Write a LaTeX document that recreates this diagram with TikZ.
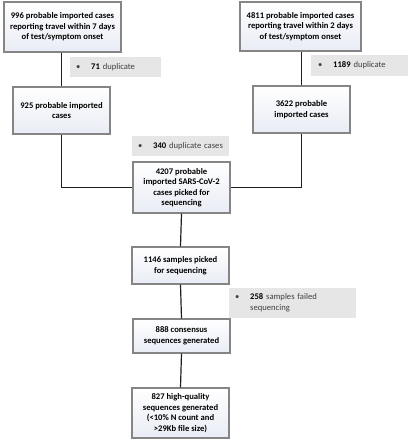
\documentclass[tikz,border=0pt]{standalone}
\usepackage{fontspec}
\setmainfont{Carlito}
\usetikzlibrary{positioning}
\definecolor{boxborder}{HTML}{858585}
\definecolor{boxbot}{HTML}{E9ECF5}
\definecolor{notefill}{HTML}{E6E6E6}
\definecolor{notetext}{HTML}{404040}
\definecolor{linec}{HTML}{1E1E1E}
\tikzset{
  stepbox/.style={draw=boxborder, line width=1.2pt, top color=white, bottom color=boxbot,
    align=center, inner sep=1pt, font=\fontsize{8.6}{10.5}\selectfont\bfseries},
  notebox/.style={fill=notefill, draw=none, inner sep=0pt, anchor=west,
    font=\fontsize{8.6}{10.5}\selectfont, text=notetext},
  conn/.style={draw=linec, line width=1.2pt},
}
\newcommand{\nb}{\makebox[15pt][l]{\textbullet}}
\begin{document}
\begin{tikzpicture}[x=1pt,y=-1pt]
\useasboundingbox (0,0) rectangle (409,440);
% main boxes
\node[stepbox, minimum width=117pt, minimum height=50pt] (b996) at (62.5,27)
  {996 probable imported cases\\reporting travel within 7 days\\of test/symptom onset};
\node[stepbox, minimum width=121pt, minimum height=49pt] (b4811) at (300.5,26.5)
  {4811 probable imported cases\\reporting travel within 2 days\\of test/symptom onset};
\node[stepbox, minimum width=97pt, minimum height=47pt] (b925) at (61.5,110.5)
  {925 probable imported\\cases};
\node[stepbox, minimum width=97pt, minimum height=47pt] (b3622) at (301.5,109.5)
  {3622 probable\\imported cases};
\node[stepbox, minimum width=97pt, minimum height=51pt] (b4207) at (181.5,187.5)
  {4207 probable\\imported SARS-CoV-2\\cases picked for\\sequencing};
\node[stepbox, minimum width=97pt, minimum height=37pt] (b1146) at (180.5,265.5)
  {1146 samples picked\\for sequencing};
\node[stepbox, minimum width=97pt, minimum height=34pt] (b888) at (181.5,336)
  {888 consensus\\sequences generated};
\node[stepbox, minimum width=97pt, minimum height=50pt] (b827) at (180.5,413)
  {827 high-quality\\sequences generated\\(<10\% N count and\\>29Kb file size)};
% notes
\node[notebox, minimum width=91pt, minimum height=20pt, text width=91pt] (n71) at (70,67)
  {\hspace*{6pt}\nb\textbf{\color{black}71} duplicate};
\node[notebox, minimum width=97pt, minimum height=21pt, text width=97pt] (n1189) at (311,65.5)
  {\hspace*{7pt}\nb\textbf{\color{black}1189} duplicate};
\node[notebox, minimum width=97pt, minimum height=20pt, text width=97pt] (n340) at (132,146)
  {\hspace*{6pt}\nb\textbf{\color{black}340} duplicate cases};
\node[notebox, minimum width=127pt, minimum height=30pt, text width=127pt] (n258) at (229,303)
  {\hspace*{6pt}\begin{tabular}{@{}p{15pt}@{}l@{}}\textbullet & \textbf{\color{black}258} samples failed\\ & sequencing\end{tabular}};
% connectors
\draw[conn] (b996.south -| b925.north) -- (b925.north);
\draw[conn] (b4811.south -| b3622.north) -- (b3622.north);
\draw[conn] (b925.south) |- (b4207.west);
\draw[conn] (b3622.south) |- (b4207.east);
\draw[conn] (b4207.south) -- (b1146.north);
\draw[conn] (b1146.south) -- (b888.north);
\draw[conn] (b888.south) -- (b827.north);
\end{tikzpicture}
\end{document}
